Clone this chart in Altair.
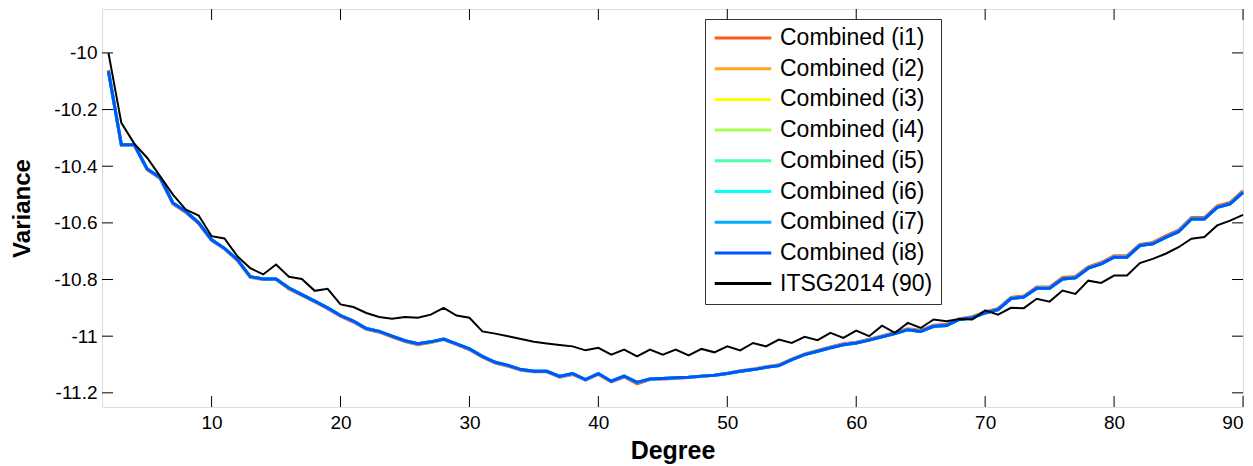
import altair as alt
import pandas as pd

degrees = list(range(2, 91))

itsg2014 = [
    -10.000, -10.247, -10.320, -10.370, -10.435, -10.500, -10.553, -10.574, -10.647, -10.655,
    -10.718, -10.760, -10.782, -10.747, -10.790, -10.798, -10.840, -10.833, -10.888, -10.897,
    -10.918, -10.932, -10.938, -10.932, -10.935, -10.924, -10.900, -10.927, -10.935, -10.983,
    -10.991, -11.000, -11.010, -11.020, -11.026, -11.031, -11.036, -11.050, -11.041, -11.065,
    -11.047, -11.071, -11.047, -11.065, -11.047, -11.068, -11.045, -11.057, -11.036, -11.050,
    -11.024, -11.036, -11.012, -11.024, -11.002, -11.014, -10.988, -11.006, -10.980, -11.000,
    -10.963, -10.988, -10.953, -10.971, -10.941, -10.947, -10.939, -10.941, -10.909, -10.924,
    -10.900, -10.901, -10.868, -10.878, -10.839, -10.851, -10.804, -10.812, -10.786, -10.786,
    -10.742, -10.727, -10.709, -10.686, -10.656, -10.650, -10.609, -10.592, -10.572,
]

combined_i8 = [
    -10.065, -10.324, -10.324, -10.410, -10.440, -10.530, -10.560, -10.600, -10.660, -10.690,
    -10.730, -10.790, -10.798, -10.798, -10.830, -10.853, -10.876, -10.900, -10.927, -10.947,
    -10.973, -10.983, -11.000, -11.016, -11.027, -11.020, -11.010, -11.027, -11.045, -11.071,
    -11.092, -11.103, -11.118, -11.124, -11.124, -11.142, -11.132, -11.153, -11.132, -11.159,
    -11.141, -11.163, -11.151, -11.149, -11.147, -11.145, -11.141, -11.138, -11.132, -11.124,
    -11.118, -11.110, -11.104, -11.083, -11.065, -11.053, -11.041, -11.030, -11.024, -11.014,
    -11.002, -10.991, -10.977, -10.983, -10.965, -10.962, -10.941, -10.935, -10.918, -10.906,
    -10.867, -10.862, -10.831, -10.831, -10.798, -10.794, -10.760, -10.745, -10.721, -10.721,
    -10.680, -10.674, -10.651, -10.631, -10.586, -10.586, -10.545, -10.533, -10.492,
]

combined_i1 = [
    -10.060, -10.326, -10.326, -10.412, -10.443, -10.533, -10.563, -10.603, -10.662, -10.692,
    -10.733, -10.792, -10.800, -10.800, -10.833, -10.856, -10.879, -10.903, -10.930, -10.950,
    -10.976, -10.986, -11.003, -11.019, -11.030, -11.022, -11.012, -11.030, -11.048, -11.074,
    -11.095, -11.106, -11.120, -11.126, -11.126, -11.145, -11.135, -11.155, -11.135, -11.161,
    -11.144, -11.168, -11.153, -11.151, -11.149, -11.146, -11.142, -11.138, -11.131, -11.122,
    -11.116, -11.108, -11.101, -11.081, -11.063, -11.050, -11.038, -11.027, -11.021, -11.011,
    -10.999, -10.987, -10.974, -10.979, -10.961, -10.958, -10.938, -10.931, -10.914, -10.902,
    -10.863, -10.858, -10.826, -10.826, -10.793, -10.789, -10.755, -10.740, -10.716, -10.716,
    -10.676, -10.669, -10.646, -10.626, -10.581, -10.581, -10.540, -10.528, -10.486,
]

series_names = [
    "Combined (i1)", "Combined (i2)", "Combined (i3)", "Combined (i4)",
    "Combined (i5)", "Combined (i6)", "Combined (i7)", "Combined (i8)",
    "ITSG2014 (90)",
]
series_colors = [
    "#FF5A1E", "#FFA51E", "#FFFF00", "#A5FF50",
    "#50FFA5", "#00FFFF", "#00AAFF", "#0055FF",
    "#000000",
]
series_values = [
    combined_i1, combined_i8, combined_i8, combined_i8,
    combined_i8, combined_i8, combined_i8, combined_i8,
    itsg2014,
]

x_ticks = [10, 20, 30, 40, 50, 60, 70, 80, 90]
y_ticks = [-11.2, -11.0, -10.8, -10.6, -10.4, -10.2, -10.0]

rows = []
for name, vals in zip(series_names, series_values):
    for d, v in zip(degrees, vals):
        rows.append({"Degree": d, "Variance": v, "series": name})
df = pd.DataFrame(rows)

W, H = 1141, 398
TL = 11
FONT = "Liberation Sans"

xscale = alt.Scale(domain=[1.5, 90], nice=False, zero=False)
yscale = alt.Scale(domain=[-11.25, -9.845], nice=False, zero=False)

xaxis = alt.Axis(values=x_ticks, ticks=False, domain=False, grid=False,
                 labelFont=FONT, labelFontSize=19, labelColor="black", labelPadding=6,
                 title="Degree", titleFont=FONT, titleFontSize=25, titleFontWeight="bold",
                 titleColor="black", titlePadding=6)
yaxis = alt.Axis(values=y_ticks, ticks=False, domain=False, grid=False,
                 labelFont=FONT, labelFontSize=19, labelColor="black", labelPadding=5,
                 labelExpr="'' + datum.value",
                 title="Variance", titleFont=FONT, titleFontSize=24, titleFontWeight="bold",
                 titleColor="black", titlePadding=19)

color = alt.Color("series:N",
                  scale=alt.Scale(domain=series_names, range=series_colors),
                  legend=alt.Legend(title=None, orient="none", legendX=603, legendY=10,
                                    symbolType="stroke", symbolSize=3200,
                                    symbolStrokeWidth=3, labelFont=FONT, labelFontSize=23,
                                    labelColor="black", labelOffset=7, rowPadding=7.7,
                                    clipHeight=22,
                                    padding=8, strokeColor="#333333", fillColor="white",
                                    labelLimit=300))

base = alt.Chart(df)

combined = base.transform_filter(alt.datum.series != "ITSG2014 (90)").mark_line(
    strokeWidth=3, interpolate="linear").encode(
    x=alt.X("Degree:Q", scale=xscale, axis=xaxis),
    y=alt.Y("Variance:Q", scale=yscale, axis=yaxis),
    color=color,
    detail="series:N",
)

itsg = base.transform_filter(alt.datum.series == "ITSG2014 (90)").mark_line(
    strokeWidth=2).encode(
    x=alt.X("Degree:Q", scale=xscale),
    y=alt.Y("Variance:Q", scale=yscale),
    color=color,
)

xt = pd.DataFrame({"t": x_ticks})
yt = pd.DataFrame({"t": y_ticks})

xtick_bottom = alt.Chart(xt).mark_rule(color="black", strokeWidth=1).encode(
    x=alt.X("t:Q", scale=xscale), y=alt.value(H), y2=alt.value(H - TL))
xtick_top = alt.Chart(xt).mark_rule(color="black", strokeWidth=1).encode(
    x=alt.X("t:Q", scale=xscale), y=alt.value(0), y2=alt.value(TL))
ytick_left = alt.Chart(yt).mark_rule(color="black", strokeWidth=1).encode(
    y=alt.Y("t:Q", scale=yscale), x=alt.value(0), x2=alt.value(TL))
ytick_right = alt.Chart(yt).mark_rule(color="black", strokeWidth=1).encode(
    y=alt.Y("t:Q", scale=yscale), x=alt.value(W - TL), x2=alt.value(W))

chart = alt.layer(
    xtick_bottom, xtick_top, ytick_left, ytick_right, combined, itsg
).properties(
    width=W, height=H,
    autosize=alt.AutoSizeParams(type="none"),
    padding={"left": 94, "top": 1, "right": 2, "bottom": 58},
).configure_view(
    stroke="#1a1a1a", strokeWidth=2
).configure(background="white")

chart.save("out.html", embed_options={"renderer": "svg", "actions": False})
